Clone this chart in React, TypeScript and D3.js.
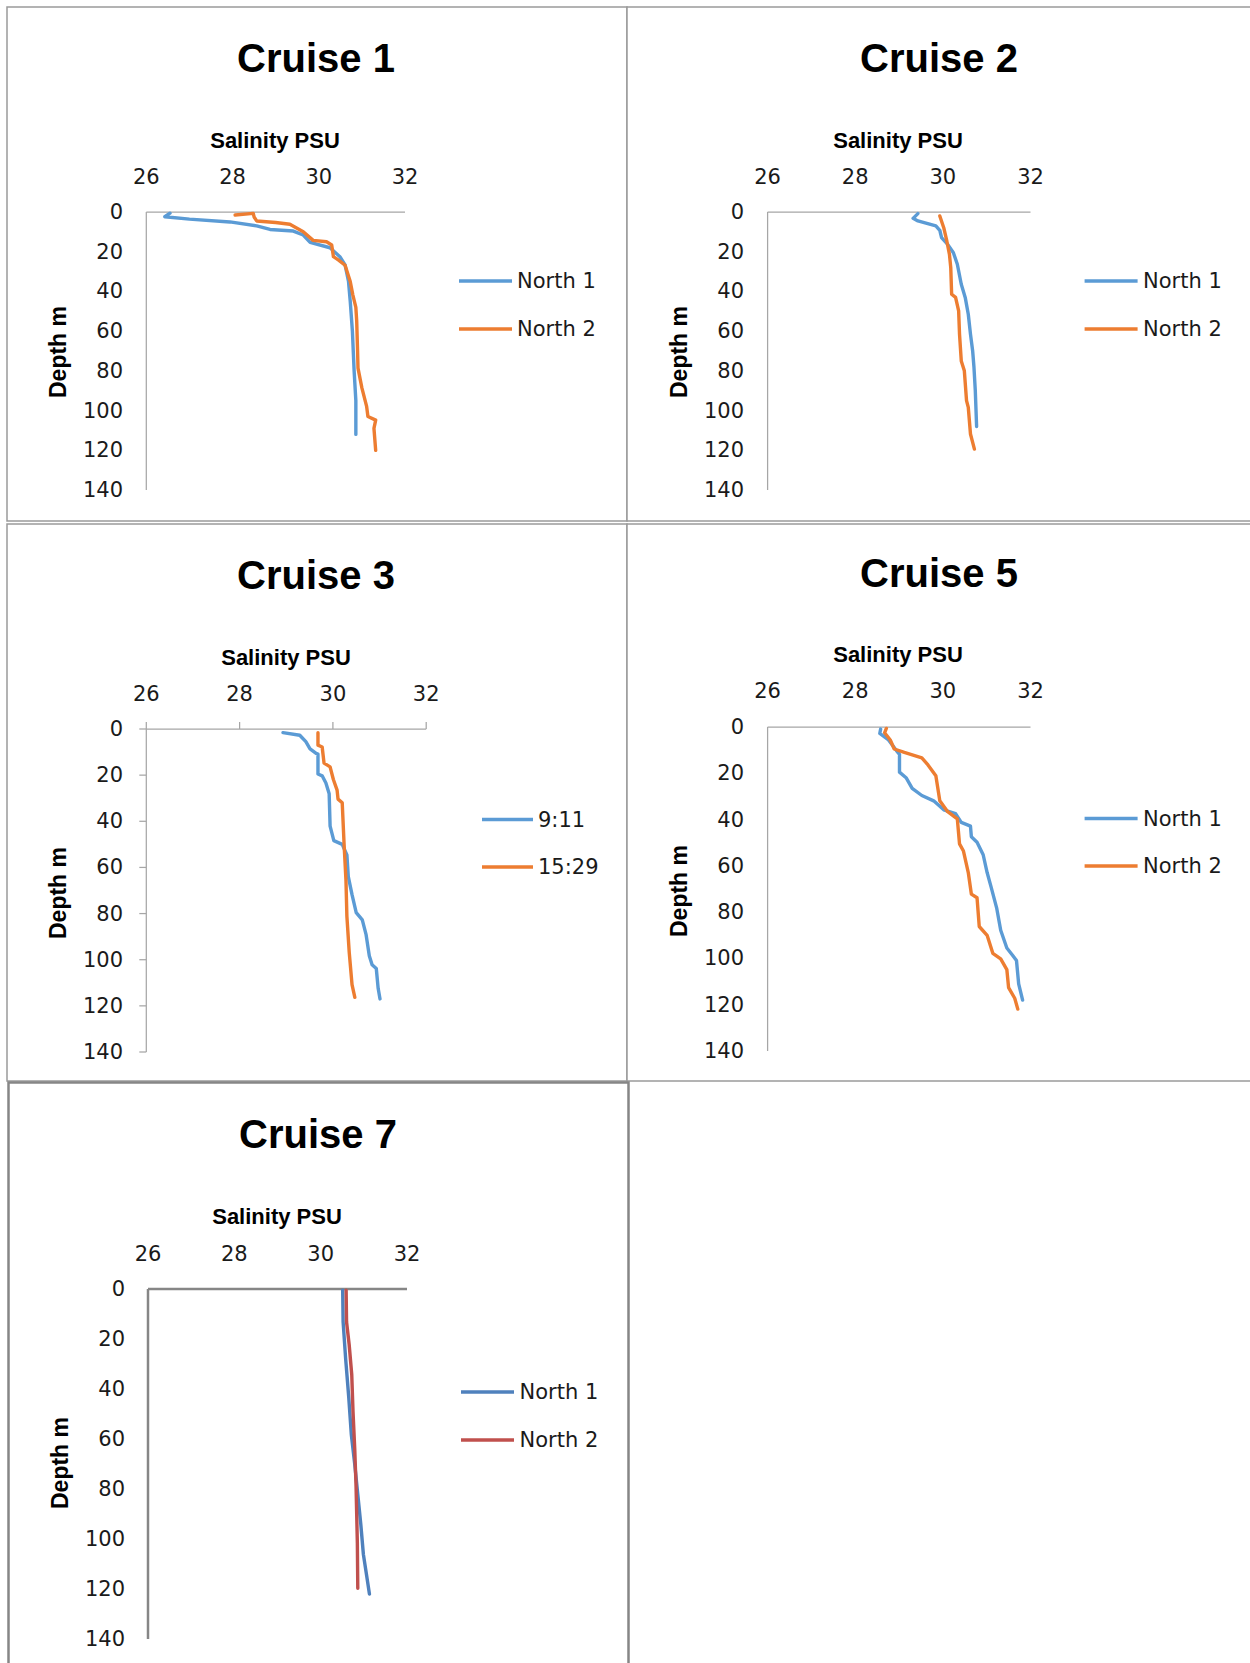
import React from 'react';
import * as d3 from 'd3';

// salinity (PSU), depth (m) pairs
const cruise1North1 = [
  [26.55, 0.6], [26.43, 2.4], [27.0, 3.6], [27.94, 5], [28.56, 7], [28.87, 8.8], [29.41, 9.6],
  [29.64, 11.6], [29.8, 15.3], [30.26, 18], [30.49, 22.5], [30.61, 26.7], [30.69, 35],
  [30.73, 45], [30.78, 60], [30.82, 80], [30.86, 95], [30.86, 112],
];
const cruise1North2 = [
  [28.06, 1.5], [28.48, 0.7], [28.5, 2.5], [28.56, 4.5], [29.0, 5.3], [29.33, 6.2], [29.64, 9.9],
  [29.87, 14.3], [30.18, 15], [30.3, 16.6], [30.34, 22.5], [30.46, 24.2], [30.61, 26.8],
  [30.73, 35], [30.79, 41.7], [30.86, 48], [30.88, 55], [30.9, 70], [30.91, 78.6], [31.0, 88.6],
  [31.11, 97.9], [31.14, 103], [31.32, 104.8], [31.28, 109], [31.32, 120],
];
const cruise2North1 = [
  [29.43, 0.8], [29.32, 3.2], [29.43, 4.5], [29.84, 7], [29.93, 9.2], [29.97, 12.9], [30.11, 16.3],
  [30.24, 20.5], [30.33, 26.3], [30.42, 36.4], [30.51, 43], [30.58, 51.5], [30.63, 61.5],
  [30.68, 70], [30.71, 78.3], [30.74, 90], [30.77, 108],
];
const cruise2North2 = [
  [29.93, 2], [30.02, 7.9], [30.09, 14.6], [30.15, 21.3], [30.18, 28], [30.2, 41.4], [30.29, 43],
  [30.36, 49.8], [30.38, 61.5], [30.42, 75], [30.49, 80], [30.54, 95], [30.58, 98.4],
  [30.63, 111.8], [30.72, 119.4],
];
const cruise3Early = [
  [28.93, 1.6], [29.29, 2.7], [29.42, 5.5], [29.51, 8.6], [29.64, 10.6], [29.68, 10.9],
  [29.68, 19.5], [29.77, 20.3], [29.85, 23.4], [29.92, 28.1], [29.94, 42.1], [30.02, 48.4],
  [30.2, 50], [30.3, 54.6], [30.33, 64], [30.41, 71.8], [30.5, 79.6], [30.63, 82.7], [30.71, 89],
  [30.78, 98.3], [30.84, 102.2], [30.93, 103.8], [30.97, 112.4], [31.01, 117],
];
const cruise3Late = [
  [29.68, 1.6], [29.68, 7], [29.77, 7.8], [29.81, 14.8], [29.94, 16.4], [30.01, 21.9],
  [30.09, 26.5], [30.11, 30.4], [30.2, 32], [30.24, 50], [30.28, 65.6], [30.3, 81.2],
  [30.35, 96.8], [30.41, 110.8], [30.47, 116.3],
];
const cruise5North1 = [
  [28.58, 0.9], [28.56, 2.8], [28.76, 5.6], [28.94, 10.2], [29.01, 11.8], [29.01, 19.5],
  [29.16, 21.9], [29.3, 26.5], [29.52, 29.6], [29.79, 31.9], [30.02, 35.8], [30.29, 37.4],
  [30.42, 41.2], [30.63, 42.8], [30.65, 47.4], [30.78, 49.8], [30.92, 55.2], [31.01, 62.9],
  [31.1, 69.1], [31.23, 78.4], [31.32, 87.8], [31.46, 95.5], [31.59, 98.6], [31.68, 100.9],
  [31.73, 111], [31.82, 118],
];
const cruise5North2 = [
  [28.71, 0.6], [28.67, 2.5], [28.8, 5.6], [28.89, 9.5], [29.12, 11], [29.52, 13.3],
  [29.66, 16.4], [29.84, 21.1], [29.93, 31.9], [30.11, 36.6], [30.33, 39.7], [30.38, 50.5],
  [30.47, 53.6], [30.58, 62.9], [30.65, 72.2], [30.78, 73.8], [30.83, 86.2], [31.01, 90],
  [31.14, 97.8], [31.32, 100.2], [31.46, 104.8], [31.5, 112.6], [31.64, 117.2], [31.71, 121.9],
];
const cruise7North1 = [
  [30.51, 0.5], [30.52, 13.2], [30.58, 28.2], [30.65, 43.2], [30.71, 58.2], [30.79, 70.2],
  [30.86, 82.2], [30.93, 94.2], [30.99, 106.2], [31.07, 115.2], [31.13, 122],
];
const cruise7North2 = [
  [30.59, 0.5], [30.6, 13.2], [30.66, 22.2], [30.72, 34.2], [30.75, 49.2], [30.79, 64.2],
  [30.82, 79.2], [30.85, 101.7], [30.86, 119.7],
];

const salinityTicks = [26, 28, 30, 32];
const depthTicks = [0, 20, 40, 60, 80, 100, 120, 140];
const northLabels = ['North 1', 'North 2'];
const timeLabels = ['9:11', '15:29'];

const FONT = "'Liberation Sans', Arial, sans-serif";
const LABEL_FONT = "'DejaVu Sans', sans-serif";

const panels = [
  {
    title: 'Cruise 1', series: [cruise1North1, cruise1North2], labels: northLabels,
    colors: ['#5B9BD5', '#ED7D31'],
    frame: { x: 7, y: 7, w: 620, h: 514 }, titlePos: [316, 58], xTitlePos: [275, 140], xTickY: 177,
    axis: { x0: 146.3, x1: 405, y0: 212, y1: 490 }, depthPos: [58, 352], yLabelRight: 123,
    legend: { x0: 459, x1: 512, tx: 517, y: [281, 329] },
  },
  {
    title: 'Cruise 2', series: [cruise2North1, cruise2North2], labels: northLabels,
    colors: ['#5B9BD5', '#ED7D31'],
    frame: { x: 627, y: 7, w: 660, h: 514 }, titlePos: [939, 58], xTitlePos: [898, 140], xTickY: 177,
    axis: { x0: 767.6, x1: 1030.5, y0: 212, y1: 490 }, depthPos: [678.5, 352], yLabelRight: 744,
    legend: { x0: 1084.6, x1: 1137.6, tx: 1143, y: [281, 329] },
  },
  {
    title: 'Cruise 3', series: [cruise3Early, cruise3Late], labels: timeLabels,
    colors: ['#5B9BD5', '#ED7D31'], ticks: true,
    frame: { x: 7, y: 524, w: 620, h: 557 }, titlePos: [316, 575], xTitlePos: [286, 657], xTickY: 694,
    axis: { x0: 146.3, x1: 426.2, y0: 729, y1: 1052 }, depthPos: [58, 893], yLabelRight: 123,
    legend: { x0: 482, x1: 533, tx: 538, y: [819.5, 867] },
  },
  {
    title: 'Cruise 5', series: [cruise5North1, cruise5North2], labels: northLabels,
    colors: ['#5B9BD5', '#ED7D31'],
    frame: { x: 627, y: 524, w: 660, h: 557 }, titlePos: [939, 572.5], xTitlePos: [898, 654], xTickY: 691,
    axis: { x0: 767.6, x1: 1030.5, y0: 727, y1: 1051 }, depthPos: [678.5, 891], yLabelRight: 744,
    legend: { x0: 1084.6, x1: 1137.6, tx: 1143, y: [818.5, 866] },
  },
  {
    title: 'Cruise 7', series: [cruise7North1, cruise7North2], labels: northLabels,
    colors: ['#4F81BD', '#C0504D'], heavy: true,
    frame: { x: 8.5, y: 1082.5, w: 620, h: 620 }, titlePos: [318, 1134], xTitlePos: [277, 1216], xTickY: 1254,
    axis: { x0: 148, x1: 407, y0: 1289, y1: 1639 }, depthPos: [60, 1463], yLabelRight: 125,
    legend: { x0: 461, x1: 514, tx: 519.5, y: [1392, 1440] },
  },
];

function Panel({ p }) {
  const x = d3.scaleLinear().domain([26, 32]).range([p.axis.x0, p.axis.x1]);
  const y = d3.scaleLinear().domain([0, 140]).range([p.axis.y0, p.axis.y1]);
  const line = d3.line().x(d => x(d[0])).y(d => y(d[1]));
  const axisColor = p.heavy ? '#868686' : '#a6a6a6';
  const axisWidth = p.heavy ? 2.5 : 1.25;
  const f = p.frame;
  return (
    <g>
      <rect x={f.x} y={f.y} width={f.w} height={f.h} fill="#fff"
        stroke={p.heavy ? '#868686' : '#9a9a9a'} strokeWidth={p.heavy ? 2.5 : 1.5} />
      <text x={p.titlePos[0]} y={p.titlePos[1]} textAnchor="middle" dominantBaseline="central"
        fontSize={40} fontWeight="bold" fontFamily={FONT}>{p.title}</text>
      <text x={p.xTitlePos[0]} y={p.xTitlePos[1]} textAnchor="middle" dominantBaseline="central"
        fontSize={22} fontWeight="bold" fontFamily={FONT}>Salinity PSU</text>
      {salinityTicks.map(t => (
        <text key={'x' + t} x={x(t)} y={p.xTickY} textAnchor="middle" dominantBaseline="central"
          fontSize={21} fill="#1a1a1a" fontFamily={LABEL_FONT}>{t}</text>
      ))}
      {depthTicks.map(t => (
        <text key={'y' + t} x={p.yLabelRight} y={y(t)} textAnchor="end" dominantBaseline="central"
          fontSize={21} fill="#1a1a1a" fontFamily={LABEL_FONT}>{t}</text>
      ))}
      <text transform={`translate(${p.depthPos[0]},${p.depthPos[1]}) rotate(-90)`} textAnchor="middle"
        dominantBaseline="central" fontSize={23} fontWeight="bold" fontFamily={FONT}>Depth m</text>
      {p.ticks && salinityTicks.map(t => (
        <line key={'tx' + t} x1={x(t)} x2={x(t)} y1={y(0)} y2={y(0) - 7} stroke={axisColor} strokeWidth={axisWidth} />
      ))}
      {p.ticks && depthTicks.map(t => (
        <line key={'ty' + t} x1={x(26)} x2={x(26) - 7} y1={y(t)} y2={y(t)} stroke={axisColor} strokeWidth={axisWidth} />
      ))}
      <line x1={x(26)} x2={x(32)} y1={y(0)} y2={y(0)} stroke={axisColor} strokeWidth={axisWidth} />
      <line x1={x(26)} x2={x(26)} y1={y(0)} y2={y(140)} stroke={axisColor} strokeWidth={axisWidth} />
      {p.series.map((s, i) => (
        <path key={'s' + i} d={line(s)} fill="none" stroke={p.colors[i]} strokeWidth={3.4}
          strokeLinejoin="round" strokeLinecap="round" />
      ))}
      {p.labels.map((lab, i) => (
        <g key={'l' + i}>
          <line x1={p.legend.x0} x2={p.legend.x1} y1={p.legend.y[i]} y2={p.legend.y[i]}
            stroke={p.colors[i]} strokeWidth={3.4} />
          <text x={p.legend.tx} y={p.legend.y[i]} dominantBaseline="central" fontSize={21}
            fill="#1a1a1a" fontFamily={LABEL_FONT}>{lab}</text>
        </g>
      ))}
    </g>
  );
}

export default function App() {
  return (
    <svg width={1250} height={1663} style={{ position: 'absolute', left: 0, top: 0, background: '#fff' }}>
      <rect width={1250} height={1663} fill="#fff" />
      {panels.map(p => <Panel key={p.title} p={p} />)}
    </svg>
  );
}
